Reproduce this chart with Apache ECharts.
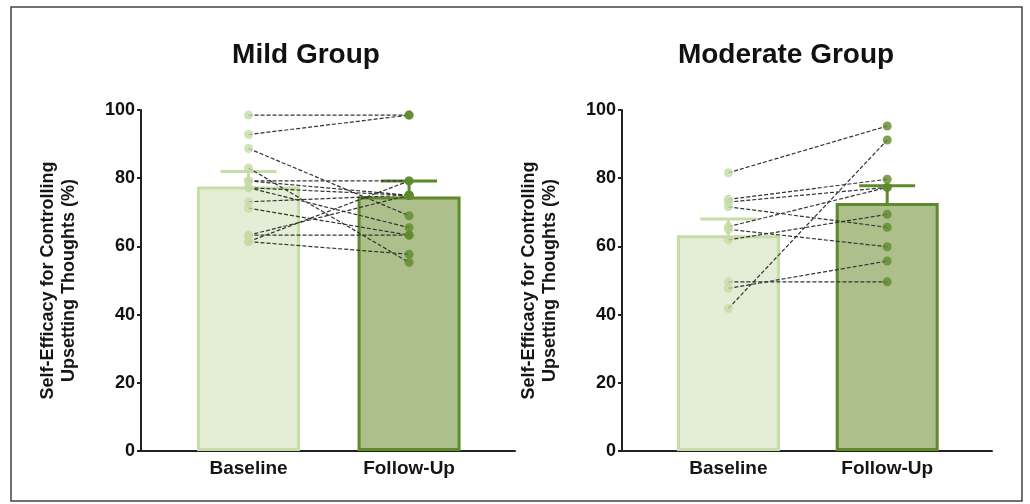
<!DOCTYPE html>
<html>
<head>
<meta charset="utf-8">
<script src="https://cdn.jsdelivr.net/npm/echarts@6/dist/echarts.min.js"></script>
<style>
html,body{margin:0;padding:0;background:#fff;}
#chart{width:1030px;height:504px;}
</style>
</head>
<body>
<div id="chart"></div>
<script>
// ---- data ----
const categories = ['Baseline', 'Follow-Up'];
const panelTitles = ['Mild Group', 'Moderate Group'];
const yAxisName = 'Self-Efficacy for Controlling\nUpsetting Thoughts (%)';
const yTicks = [0, 20, 40, 60, 80, 100];

// group means and upper error (mean + SEM)
const mildMeans = [77.6, 74.6];
const mildUpper = [82.0, 79.2];
const moderateMeans = [63.3, 72.7];
const moderateUpper = [68.0, 77.8];

// individual participants (baseline -> follow-up)
const mildBaseline = [98.5, 92.8, 88.7, 83.0, 79.2, 79.2, 77.2, 77.2, 73.1, 71.2, 63.3, 61.4, 63.3, 61.4];
const mildFollowUp = [98.5, 98.5, 69.0, 55.3, 79.2, 75.0, 75.0, 65.5, 75.0, 63.3, 75.0, 79.2, 63.3, 57.7];
const moderateBaseline = [81.6, 73.8, 73.0, 71.6, 65.8, 65.0, 61.9, 49.6, 47.7, 41.8];
const moderateFollowUp = [95.3, 79.7, 77.3, 65.6, 77.3, 59.9, 69.4, 49.6, 55.7, 91.2];

// ---- styles ----
const fillColors = ['#e4edd6', '#adc08b'];
const borderColors = ['#c8dca8', '#5e8a2c'];
const dotColors = ['#c6dca6', '#5e8a2c'];
const FONT = '"Liberation Sans", Arial, Helvetica, sans-serif';

const chart = echarts.init(document.getElementById('chart'), null, {renderer: 'canvas'});

const panels = [
  {means: mildMeans, upper: mildUpper, base: mildBaseline, fu: mildFollowUp},
  {means: moderateMeans, upper: moderateUpper, base: moderateBaseline, fu: moderateFollowUp}
];

const grids = [
  {left: 141, top: 110, width: 374, height: 341},
  {left: 622, top: 110, width: 370, height: 341}
];

const xAxes = [], yAxes = [], series = [];

panels.forEach((p, gi) => {
  xAxes.push({
    type: 'value', gridIndex: gi, min: -0.67, max: 1.66,
    splitLine: {show: false},
    axisTick: {show: false},
    axisLine: {show: true, onZero: false, lineStyle: {color: '#222', width: 2}},
    axisLabel: {
      show: true, margin: 8, color: '#151515', fontFamily: FONT, fontWeight: 'bold', fontSize: 19,
      showMinLabel: false, showMaxLabel: false,
      formatter: v => {
        const r = Math.round(v);
        return (Math.abs(v - r) < 1e-6 && r >= 0 && r < categories.length) ? categories[r] : '';
      }
    }
  });
  yAxes.push({
    type: 'value', gridIndex: gi, min: yTicks[0], max: yTicks[yTicks.length - 1], interval: 20,
    splitLine: {show: false},
    axisLine: {show: true, onZero: false, lineStyle: {color: '#222', width: 2}},
    axisTick: {show: true, inside: false, length: 4, lineStyle: {color: '#222', width: 2}},
    axisLabel: {margin: 6, color: '#111', fontFamily: FONT, fontWeight: 'bold', fontSize: 18},
    name: yAxisName, nameLocation: 'middle', nameGap: 61,
    nameTextStyle: {color: '#151515', fontFamily: FONT, fontWeight: 'bold', fontSize: 18, lineHeight: 21}
  });

  // bars
  series.push({
    type: 'bar', xAxisIndex: gi, yAxisIndex: gi, barWidth: 103, z: 1,
    data: p.means.map((m, i) => ({
      value: [i, m],
      itemStyle: {color: fillColors[i], borderColor: borderColors[i], borderWidth: 3}
    })),
    silent: true
  });

  // error bars
  series.push({
    type: 'custom', xAxisIndex: gi, yAxisIndex: gi, z: 2, silent: true,
    data: p.means.map((m, i) => [i, m, p.upper[i]]),
    renderItem: (params, api) => {
      const i = api.value(0);
      const bottom = api.coord([i, api.value(1)]);
      const top = api.coord([i, api.value(2)]);
      const color = borderColors[i];
      const hw = 28;
      return {
        type: 'group',
        children: [
          {type: 'line', shape: {x1: top[0], y1: bottom[1], x2: top[0], y2: top[1]}, style: {stroke: color, lineWidth: 3}},
          {type: 'line', shape: {x1: top[0] - hw, y1: top[1], x2: top[0] + hw, y2: top[1]}, style: {stroke: color, lineWidth: 3}}
        ]
      };
    }
  });

  // subject lines
  p.base.forEach((b, k) => {
    series.push({
      type: 'line', xAxisIndex: gi, yAxisIndex: gi, z: 3, silent: true,
      symbol: 'none',
      lineStyle: {color: '#333', width: 1.2, type: [4, 2]},
      data: [[0, b], [1, p.fu[k]]]
    });
  });

  // dots
  [p.base, p.fu].forEach((arr, ci) => {
    series.push({
      type: 'scatter', xAxisIndex: gi, yAxisIndex: gi, z: 4, silent: true,
      symbolSize: 9,
      itemStyle: {color: dotColors[ci]},
      data: arr.map(v => [ci, v])
    });
  });
});

chart.setOption({
  backgroundColor: '#ffffff',
  animation: false,
  title: [
    {text: panelTitles[0], left: 301, top: 36, textAlign: 'center',
     textStyle: {fontFamily: FONT, fontWeight: 'bold', fontSize: 28, color: '#111'}},
    {text: panelTitles[1], left: 781, top: 36, textAlign: 'center',
     textStyle: {fontFamily: FONT, fontWeight: 'bold', fontSize: 28, color: '#111'}}
  ],
  grid: grids,
  xAxis: xAxes,
  yAxis: yAxes,
  series: series,
  graphic: [{
    type: 'rect', silent: true, z: 0,
    shape: {x: 11, y: 7, width: 1011, height: 494},
    style: {fill: 'none', stroke: '#444', lineWidth: 1.5}
  }]
});
</script>
</body>
</html>
